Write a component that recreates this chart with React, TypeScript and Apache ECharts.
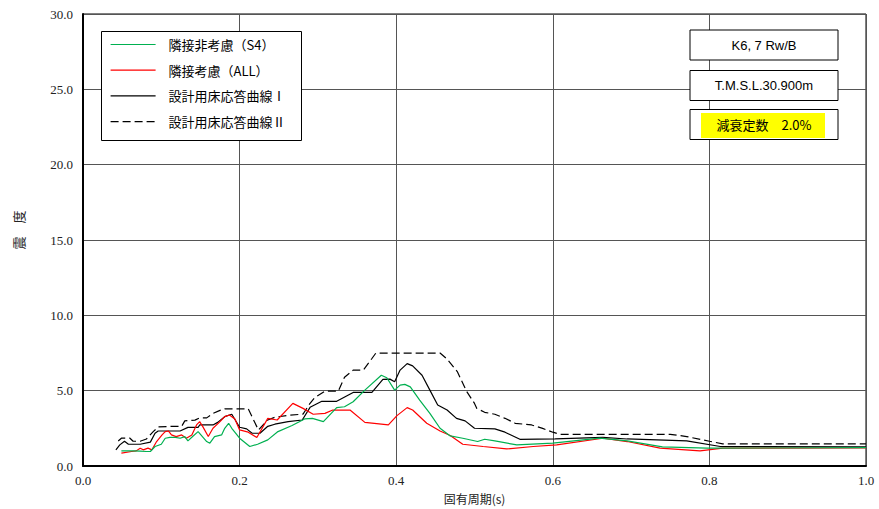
import React, { useEffect, useRef } from "react";
import * as echarts from "echarts";

const xTicks = [0, 0.2, 0.4, 0.6, 0.8, 1.0];
const yTicks = [0, 5, 10, 15, 20, 25, 30];

const seriesNames = ["隣接非考慮（S4）", "隣接考慮（ALL）", "設計用床応答曲線Ⅰ", "設計用床応答曲線Ⅱ"];

const s4Data: number[][] = [
  [0.049, 1.01], [0.064, 1.01], [0.073, 1.0], [0.081, 0.97], [0.086, 0.97], [0.092, 1.3], [0.1, 1.45],
  [0.105, 1.85], [0.111, 1.9], [0.118, 1.9], [0.124, 1.85], [0.13, 1.96], [0.134, 1.67], [0.14, 1.96],
  [0.147, 2.29], [0.158, 1.63], [0.162, 1.52], [0.168, 1.96], [0.177, 2.07], [0.181, 2.51], [0.186, 2.84],
  [0.19, 2.51], [0.2, 1.85], [0.213, 1.3], [0.223, 1.45], [0.236, 1.74], [0.249, 2.29], [0.267, 2.69],
  [0.283, 3.13], [0.293, 3.17], [0.307, 2.95], [0.324, 3.88], [0.334, 3.94], [0.345, 4.27], [0.36, 5.04],
  [0.381, 6.03], [0.388, 5.86], [0.398, 5.04], [0.405, 5.37], [0.411, 5.42], [0.418, 5.26], [0.43, 4.38],
  [0.443, 3.5], [0.456, 2.51], [0.469, 2.0], [0.485, 1.85], [0.504, 1.63], [0.513, 1.78], [0.526, 1.67],
  [0.554, 1.41], [0.6, 1.52], [0.66, 1.85], [0.695, 1.67], [0.74, 1.27], [0.797, 1.19], [1.0, 1.22],
];

const allData: number[][] = [
  [0.049, 0.86], [0.062, 0.97], [0.068, 1.01], [0.073, 1.19], [0.077, 1.08], [0.083, 1.19], [0.088, 1.08],
  [0.094, 1.63], [0.101, 2.07], [0.105, 2.29], [0.109, 2.33], [0.113, 2.07], [0.119, 1.96], [0.126, 2.07],
  [0.132, 1.85], [0.139, 2.07], [0.145, 2.73], [0.149, 2.95], [0.153, 2.62], [0.16, 1.96], [0.166, 2.51],
  [0.175, 2.95], [0.181, 3.28], [0.187, 3.39], [0.194, 3.13], [0.2, 2.4], [0.211, 2.25], [0.222, 1.9],
  [0.236, 3.17], [0.248, 3.06], [0.268, 4.16], [0.281, 3.83], [0.294, 3.44], [0.309, 3.5], [0.319, 3.72],
  [0.341, 3.72], [0.36, 2.9], [0.39, 2.73], [0.401, 3.35], [0.414, 3.88], [0.421, 3.72], [0.439, 2.84],
  [0.456, 2.33], [0.469, 2.03], [0.485, 1.45], [0.511, 1.3], [0.541, 1.14], [0.575, 1.3], [0.605, 1.41],
  [0.664, 1.85], [0.695, 1.63], [0.737, 1.19], [0.788, 1.01], [0.817, 1.19], [1.0, 1.2],
];

const design1Data: number[][] = [
  [0.042, 1.08], [0.047, 1.41], [0.053, 1.65], [0.058, 1.45], [0.073, 1.45], [0.086, 1.59], [0.092, 2.18],
  [0.096, 2.33], [0.124, 2.33], [0.134, 2.57], [0.147, 2.57], [0.149, 2.73], [0.166, 2.73], [0.172, 2.9],
  [0.181, 3.28], [0.19, 3.44], [0.2, 2.58], [0.209, 2.47], [0.216, 2.18], [0.226, 2.18], [0.236, 2.64],
  [0.245, 2.78], [0.262, 2.95], [0.28, 3.06], [0.29, 3.9], [0.305, 4.3], [0.324, 4.3], [0.345, 4.89],
  [0.369, 4.89], [0.383, 5.75], [0.392, 5.77], [0.398, 5.6], [0.405, 6.37], [0.414, 6.8], [0.421, 6.65],
  [0.433, 6.03], [0.443, 5.04], [0.453, 4.05], [0.465, 3.72], [0.477, 3.17], [0.488, 3.0], [0.5, 2.51],
  [0.526, 2.47], [0.539, 2.25], [0.558, 1.78], [0.603, 1.8], [0.664, 1.9], [0.695, 1.8], [0.771, 1.67],
  [0.814, 1.3], [1.0, 1.28],
];

const design2Data: number[][] = [
  [0.045, 1.67], [0.049, 1.85], [0.06, 1.85], [0.064, 1.65], [0.073, 1.65], [0.081, 1.8], [0.09, 2.3],
  [0.096, 2.6], [0.113, 2.64], [0.126, 2.64], [0.13, 3.0], [0.143, 3.05], [0.149, 3.2], [0.158, 3.2],
  [0.166, 3.5], [0.175, 3.7], [0.181, 3.8], [0.211, 3.8], [0.224, 2.4], [0.236, 3.06], [0.245, 3.24],
  [0.262, 3.37], [0.281, 3.45], [0.29, 4.17], [0.296, 4.55], [0.309, 4.97], [0.326, 4.97], [0.334, 5.9],
  [0.345, 6.37], [0.358, 6.37], [0.369, 7.14], [0.374, 7.5], [0.456, 7.5], [0.465, 7.1], [0.478, 6.27],
  [0.49, 4.95], [0.5, 4.16], [0.503, 3.83], [0.513, 3.57], [0.526, 3.44], [0.539, 3.17], [0.552, 2.84],
  [0.573, 2.73], [0.587, 2.5], [0.6, 2.25], [0.609, 2.11], [0.75, 2.11], [0.771, 1.96], [0.8, 1.65],
  [0.817, 1.48], [1.0, 1.48],
];

const infoTexts = ["K6, 7 Rw/B", "T.M.S.L.30.900m", "減衰定数　2.0%"];

const serifFont = "Liberation Serif";
const cjkFont = "Noto Sans CJK JP";

export default function App() {
  const ref = useRef<HTMLDivElement>(null);
  useEffect(() => {
    if (!ref.current) return;
    const chart = echarts.init(ref.current, null, { renderer: "svg" });
    const colors = ["#00b050", "#ff0000", "#000000", "#000000"];
    const datas = [s4Data, allData, design1Data, design2Data];
    const series = datas.map((d, i) => ({
      name: seriesNames[i],
      type: "line",
      data: d,
      symbol: "none",
      showSymbol: false,
      lineStyle: { color: colors[i], width: 1.2, type: i === 3 ? [8, 4] : "solid" },
      itemStyle: { color: colors[i] },
      z: 4 - i,
    }));
    const boxX = 690, boxW = 148, boxH = 30;
    const boxYs = [30, 70.5, 109.5];
    const graphics: any[] = [
      {
        type: "rect", left: 101, top: 31, z: 1,
        shape: { width: 200, height: 109 },
        style: { fill: "#fff", stroke: "#000", lineWidth: 1 },
      },
      {
        type: "text", x: 18, y: 230, rotation: Math.PI / 2, z: 10,
        style: { text: "震　度", fontSize: 13, fontFamily: cjkFont, fill: "#222", align: "center", verticalAlign: "middle" },
      },
    ];
    boxYs.forEach((by, i) => {
      graphics.push({
        type: "rect", z: 5,
        shape: { x: boxX, y: by, width: boxW, height: boxH },
        style: { fill: "#fff", stroke: "#000", lineWidth: 1 },
      });
      if (i === 2) {
        graphics.push({
          type: "rect", z: 6,
          shape: { x: 701, y: by + 3.5, width: 124, height: 25 },
          style: { fill: "#ffff00" },
        });
      }
      graphics.push({
        type: "text", z: 7, x: boxX + boxW / 2, y: by + boxH / 2,
        style: {
          text: infoTexts[i], fontSize: 13,
          fontFamily: i === 2 ? cjkFont : "Liberation Sans",
          fill: "#000", align: "center", verticalAlign: "middle",
        },
      });
    });
    chart.setOption({
      animation: false,
      backgroundColor: "#fff",
      grid: { left: 83, right: 13, top: 14, bottom: 41, show: true, borderColor: "#000", borderWidth: 1, z: 0 },
      legend: {
        show: true,
        orient: "vertical",
        left: 110,
        top: 38,
        padding: 0,
        itemWidth: 45,
        itemHeight: 14,
        itemGap: 12.7,
        selectedMode: false,
        z: 3,
        itemStyle: { opacity: 0 },
        lineStyle: { width: 1.2 },
        textStyle: { fontSize: 13, fontFamily: cjkFont, color: "#000", padding: [0, 0, 0, 8] },
        data: seriesNames.map((n) => ({ name: n })),
      },
      xAxis: {
        type: "value",
        min: xTicks[0],
        max: xTicks[xTicks.length - 1],
        interval: 0.2,
        name: "固有周期(s)",
        nameLocation: "middle",
        nameGap: 24,
        nameTextStyle: { fontSize: 12, fontFamily: cjkFont, color: "#222" },
        axisLine: { show: true, lineStyle: { color: "#000", width: 2 } },
        axisTick: { show: false },
        axisLabel: {
          margin: 8, fontSize: 13, fontFamily: serifFont, color: "#222",
          showMinLabel: true, showMaxLabel: true,
          formatter: (v: number) => v.toFixed(1),
        },
        splitLine: { show: true, lineStyle: { color: "#555", width: 1 } },
      },
      yAxis: {
        type: "value",
        min: yTicks[0],
        max: yTicks[yTicks.length - 1],
        interval: 5,
        axisLine: { show: true, lineStyle: { color: "#000", width: 2 } },
        axisTick: { show: false },
        axisLabel: {
          margin: 10, fontSize: 13, fontFamily: serifFont, color: "#222",
          showMinLabel: true, showMaxLabel: true,
          formatter: (v: number) => v.toFixed(1),
        },
        splitLine: { show: true, lineStyle: { color: "#555", width: 1 } },
      },
      graphic: graphics,
      series,
    });
    return () => chart.dispose();
  }, []);
  return <div ref={ref} style={{ width: 879, height: 509, position: "absolute", left: 0, top: 0 }} />;
}
